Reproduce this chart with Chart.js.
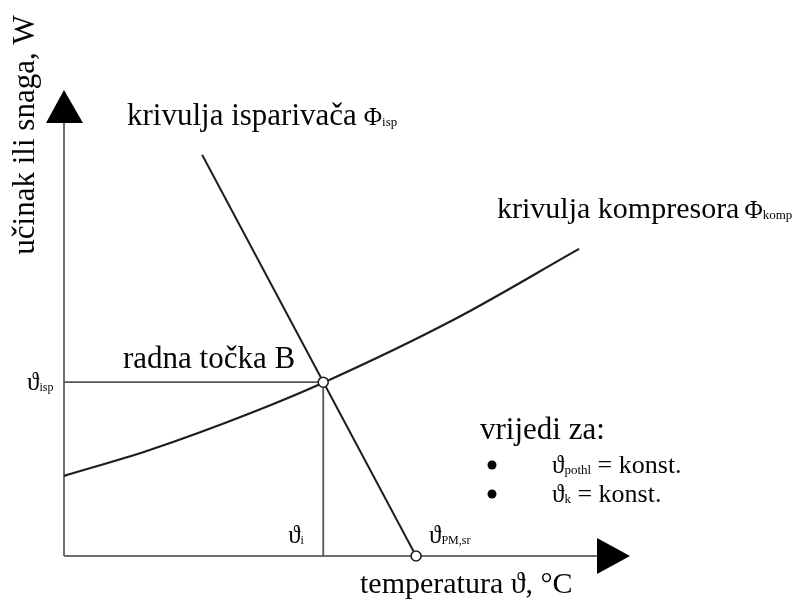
<!DOCTYPE html>
<html>
<head>
<meta charset="utf-8">
<script src="https://cdn.jsdelivr.net/npm/chart.js@4/dist/chart.umd.min.js"></script>
<style>
html,body{margin:0;padding:0;background:#fff;}
#c{display:block;}
</style>
</head>
<body>
<canvas id="c" width="811" height="605"></canvas>
<script>
// Compressor curve (temperature vs capacity) (arbitrary units 0..100)
const compressorX = [0, 15, 33, 46, 69, 91];
const compressorY = [17.2, 22.7, 30.7, 37.3, 50.8, 65.9];
// Evaporator straight line
const evaporatorX = [24.4, 62.2];
const evaporatorY = [86.1, 0];
// Working point B and mean temperature point
const workPointX = 45.8;
const workPointY = 37.3;
const pmX = 62.2;

const serif = "'Liberation Serif', 'Times New Roman', serif";
const ink = '#050505';

function pts(xs, ys){ return xs.map((x,i)=>({x:x, y:ys[i]})); }

function drawSub(ctx, x, y, main, mainSize, sub, subSize, subDy){
  ctx.font = mainSize + 'px ' + serif;
  ctx.fillText(main, x, y);
  const w = ctx.measureText(main).width;
  ctx.font = subSize + 'px ' + serif;
  ctx.fillText(sub, x + w, y + (subDy||2));
  return x + w + ctx.measureText(sub).width;
}

function drawText(ctx, x, y, text, size){
  ctx.font = size + 'px ' + serif;
  ctx.fillText(text, x, y);
  return x + ctx.measureText(text).width;
}

const annot = {
  id: 'annot',
  beforeDatasetsDraw(chart){
    const ctx = chart.ctx, a = chart.chartArea;
    const xs = chart.scales.x, ys = chart.scales.y;
    const x0 = xs.getPixelForValue(0), y0 = ys.getPixelForValue(0);
    ctx.save();
    ctx.strokeStyle = '#6e6e6e';
    ctx.lineWidth = 2;
    ctx.beginPath(); ctx.moveTo(x0, y0); ctx.lineTo(x0, a.top + 33); ctx.stroke();
    ctx.beginPath(); ctx.moveTo(x0, y0); ctx.lineTo(a.right - 33, y0); ctx.stroke();
    ctx.fillStyle = '#000';
    ctx.beginPath(); ctx.moveTo(x0, a.top); ctx.lineTo(x0 - 18, a.top + 33); ctx.lineTo(x0 + 19, a.top + 33); ctx.closePath(); ctx.fill();
    ctx.beginPath(); ctx.moveTo(a.right, y0); ctx.lineTo(a.right - 33, y0 - 18); ctx.lineTo(a.right - 33, y0 + 18); ctx.closePath(); ctx.fill();
    const px = xs.getPixelForValue(workPointX), py = ys.getPixelForValue(workPointY);
    ctx.strokeStyle = '#555';
    ctx.lineWidth = 1.8;
    ctx.beginPath(); ctx.moveTo(x0, py); ctx.lineTo(px, py); ctx.stroke();
    ctx.beginPath(); ctx.moveTo(px, y0); ctx.lineTo(px, py); ctx.stroke();
    ctx.restore();
  },
  afterDraw(chart){
    const ctx = chart.ctx;
    const xs = chart.scales.x, ys = chart.scales.y;
    const y0 = ys.getPixelForValue(0);
    const py = ys.getPixelForValue(workPointY);
    const px = xs.getPixelForValue(workPointX);
    ctx.save();
    ctx.fillStyle = ink;
    ctx.textBaseline = 'alphabetic';
    ctx.textAlign = 'left';
    // y axis title
    ctx.save();
    ctx.translate(34, 135);
    ctx.rotate(-Math.PI/2);
    ctx.textAlign = 'center';
    ctx.font = '31px ' + serif;
    ctx.fillText('učinak ili snaga, W', 0, 0);
    ctx.restore();
    // curve labels
    let e = drawText(ctx, 127, 125, 'krivulja isparivača', 31);
    drawSub(ctx, e + 7, 125, 'Φ', 25, 'isp', 13, 1);
    e = drawText(ctx, 497, 218, 'krivulja kompresora', 30);
    drawSub(ctx, e + 5, 218, 'Φ', 25, 'komp', 13, 1);
    drawText(ctx, 123, 368, 'radna točka B', 31);
    // axis labels
    drawSub(ctx, 27, py + 8, 'ϑ', 25, 'isp', 12, 1);
    drawSub(ctx, px - 35, y0 - 13, 'ϑ', 25, 'i', 12, 1);
    drawSub(ctx, xs.getPixelForValue(pmX) + 13, y0 - 13, 'ϑ', 25, 'PM,sr', 12, 1);
    drawText(ctx, 360, 593, 'temperatura ϑ, °C', 30);
    // validity note
    drawText(ctx, 480, 439, 'vrijedi za:', 31);
    ctx.beginPath(); ctx.arc(492, 465, 4.5, 0, Math.PI*2); ctx.fill();
    ctx.beginPath(); ctx.arc(492, 494, 4.5, 0, Math.PI*2); ctx.fill();
    e = drawSub(ctx, 552, 473, 'ϑ', 25, 'pothl', 13, 1);
    drawText(ctx, e, 473, ' = konst.', 26);
    e = drawSub(ctx, 552, 502, 'ϑ', 25, 'k', 13, 1);
    drawText(ctx, e, 502, ' = konst.', 26);
    ctx.restore();
  }
};

new Chart(document.getElementById('c'), {
  type: 'line',
  data: {
    datasets: [
      {
        label: 'krivulja kompresora',
        data: pts(compressorX, compressorY),
        borderColor: '#1e1e1e', borderWidth: 2.2,
        cubicInterpolationMode: 'monotone',
        pointRadius: 0, fill: false, clip: false, order: 2
      },
      {
        label: 'krivulja isparivača',
        data: pts(evaporatorX, evaporatorY),
        borderColor: '#1e1e1e', borderWidth: 2,
        tension: 0, pointRadius: 0, fill: false, clip: false, order: 2
      },
      {
        label: 'points',
        data: [{x: workPointX, y: workPointY}, {x: pmX, y: 0}],
        showLine: false,
        pointRadius: 5, pointBackgroundColor: '#fff',
        pointBorderColor: '#1e1e1e', pointBorderWidth: 1.6,
        clip: false, order: 1
      }
    ]
  },
  options: {
    responsive: false,
    animation: false,
    layout: { padding: { left: 64, right: 181, top: 90, bottom: 49 } },
    scales: {
      x: { type: 'linear', min: 0, max: 100, display: false },
      y: { type: 'linear', min: 0, max: 100, display: false }
    },
    plugins: { legend: { display: false }, tooltip: { enabled: false } }
  },
  plugins: [annot]
});
</script>
</body>
</html>
